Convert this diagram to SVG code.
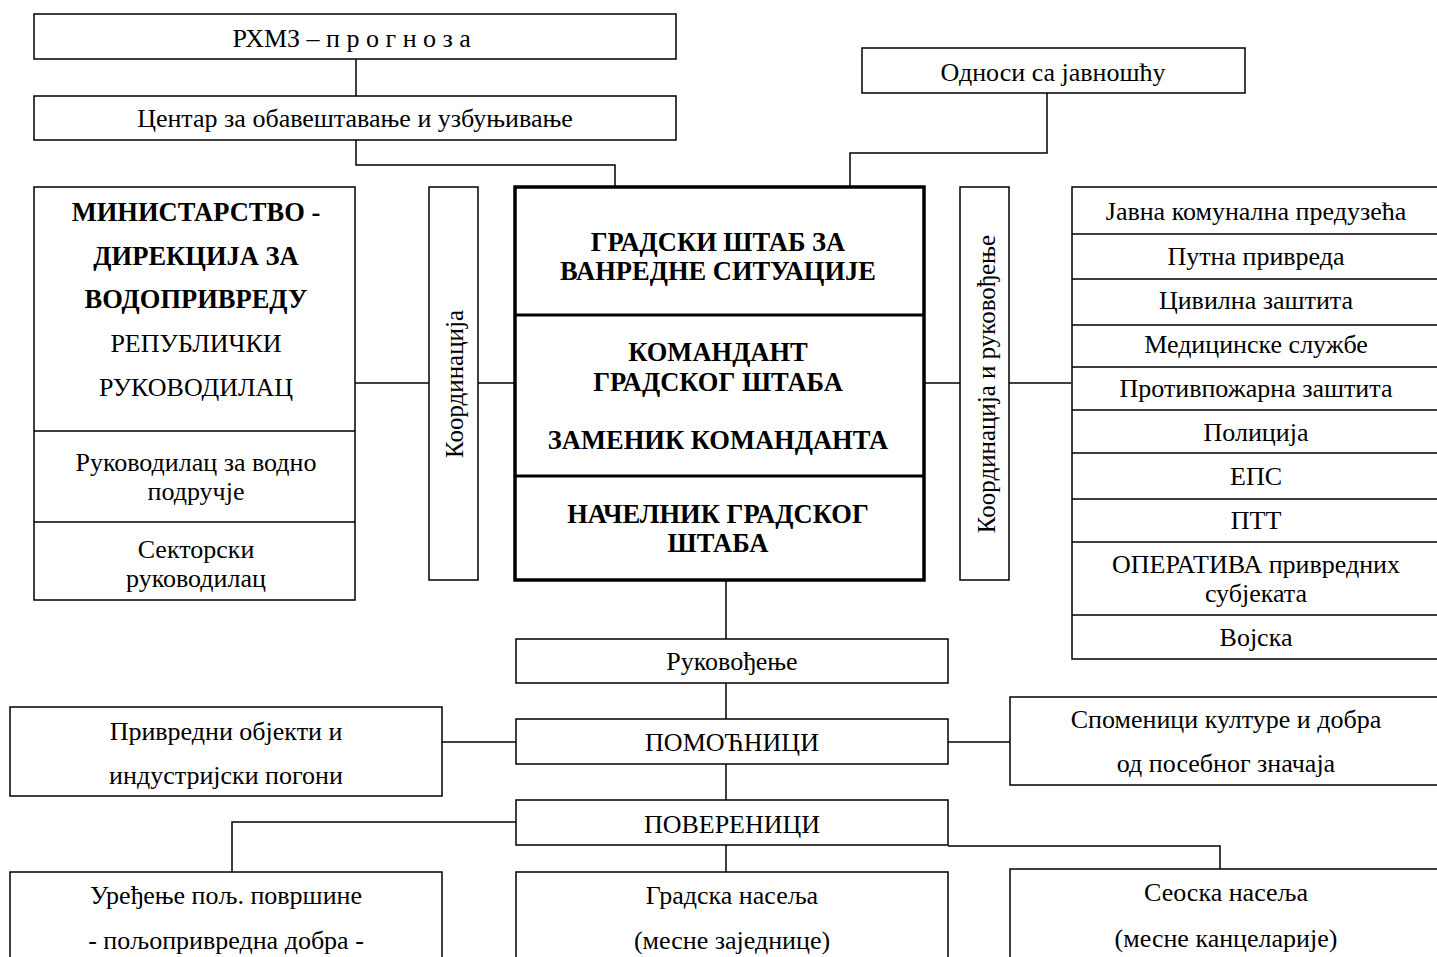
<svg xmlns="http://www.w3.org/2000/svg" width="1437" height="957" viewBox="0 0 1437 957">
<style>
.b{fill:#fff;stroke:#000;stroke-width:1.5}
.k{fill:#fff;stroke:#000;stroke-width:3.5}
.d{stroke:#000;stroke-width:3}
.l{stroke:#000;stroke-width:1.5}
.c{fill:none;stroke:#000;stroke-width:1.5}
text{font-family:"Liberation Serif","Times New Roman",serif;font-size:26px;fill:#000;text-anchor:middle;dominant-baseline:central}
.bo{font-weight:bold;font-size:26.5px}
.v{font-size:25px}
</style>
<rect width="1437" height="957" fill="#fff"/>
<g id="connectors">
<path class="c" d="M356 59V96"/>
<path class="c" d="M356 140V165H615V187"/>
<path class="c" d="M1047 93V153H850V187"/>
<path class="c" d="M355 383H429"/>
<path class="c" d="M478 383H515"/>
<path class="c" d="M924 383H960"/>
<path class="c" d="M1009 383H1071"/>
<path class="c" d="M726 580V639"/>
<path class="c" d="M726 683V719"/>
<path class="c" d="M442 742H516"/>
<path class="c" d="M948 742H1010"/>
<path class="c" d="M726 764V800"/>
<path class="c" d="M516 822H232V872"/>
<path class="c" d="M726 845V872"/>
<path class="c" d="M948 846H1220V869"/>
</g>
<g id="rhmz">
<rect class="b" x="34" y="14" width="642" height="45"/>
<text x="355" y="38">РХМЗ – <tspan letter-spacing="6.5">прогноза</tspan></text>
</g>
<g id="centar">
<rect class="b" x="34" y="96" width="642" height="44"/>
<text x="355" y="118">Центар за обавештавање и узбуњивање</text>
</g>
<g id="odnosi">
<rect class="b" x="862" y="48" width="383" height="45"/>
<text x="1053" y="72">Односи са јавношћу</text>
</g>
<g id="ministarstvo">
<rect class="b" x="34" y="187" width="321" height="413"/>
<path class="l" d="M34 431H355M34 522H355"/>
<text class="bo" x="196" y="212">МИНИСТАРСТВО -</text>
<text class="bo" x="196" y="256">ДИРЕКЦИЈА ЗА</text>
<text class="bo" x="196" y="299">ВОДОПРИВРЕДУ</text>
<text x="196" y="343">РЕПУБЛИЧКИ</text>
<text x="196" y="387">РУКОВОДИЛАЦ</text>
<text x="196" y="462">Руководилац за водно</text>
<text x="196" y="491">подручје</text>
<text x="196" y="549">Секторски</text>
<text x="196" y="578">руководилац</text>
</g>
<g id="koordinacija">
<rect class="b" x="429" y="187" width="49" height="393"/>
<text class="v" transform="translate(454 384) rotate(-90)">Координација</text>
</g>
<g id="stab">
<rect class="k" x="515" y="187" width="409" height="393"/>
<path class="d" d="M515 315H924M515 476H924"/>
<text class="bo" x="718" y="242">ГРАДСКИ ШТАБ ЗА</text>
<text class="bo" x="718" y="271">ВАНРЕДНЕ СИТУАЦИЈЕ</text>
<text class="bo" x="718" y="352">КОМАНДАНТ</text>
<text class="bo" x="718" y="382">ГРАДСКОГ ШТАБА</text>
<text class="bo" x="718" y="440">ЗАМЕНИК КОМАНДАНТА</text>
<text class="bo" x="718" y="514">НАЧЕЛНИК ГРАДСКОГ</text>
<text class="bo" x="718" y="543">ШТАБА</text>
</g>
<g id="koord-rukovodjenje">
<rect class="b" x="960" y="187" width="49" height="393"/>
<text class="v" transform="translate(986 384) rotate(-90)">Координација и руковођење</text>
</g>
<g id="sluzbe">
<rect class="b" x="1072" y="187" width="380" height="472"/>
<path class="l" d="M1072 234H1452M1072 279H1452M1072 325H1452M1072 367H1452M1072 410H1452M1072 453H1452M1072 499H1452M1072 542H1452M1072 615H1452"/>
<text x="1256" y="211">Јавна комунална предузећа</text>
<text x="1256" y="256">Путна привреда</text>
<text x="1256" y="300">Цивилна заштита</text>
<text x="1256" y="344">Медицинске службе</text>
<text x="1256" y="388">Противпожарна заштита</text>
<text x="1256" y="432">Полиција</text>
<text x="1256" y="476">ЕПС</text>
<text x="1256" y="520">ПТТ</text>
<text x="1256" y="564">ОПЕРАТИВА привредних</text>
<text x="1256" y="593">субјеката</text>
<text x="1256" y="637">Војска</text>
</g>
<g id="rukovodjenje">
<rect class="b" x="516" y="639" width="432" height="44"/>
<text x="732" y="661">Руковођење</text>
</g>
<g id="privredni">
<rect class="b" x="10" y="707" width="432" height="89"/>
<text x="226" y="731">Привредни објекти и</text>
<text x="226" y="775">индустријски погони</text>
</g>
<g id="pomocnici">
<rect class="b" x="516" y="719" width="432" height="45"/>
<text x="732" y="742">ПОМОЋНИЦИ</text>
</g>
<g id="spomenici">
<rect class="b" x="1010" y="697" width="440" height="88"/>
<text x="1226" y="719">Споменици културе и добра</text>
<text x="1226" y="763">од посебног значаја</text>
</g>
<g id="poverenici">
<rect class="b" x="516" y="800" width="432" height="45"/>
<text x="732" y="824">ПОВЕРЕНИЦИ</text>
</g>
<g id="uredjenje">
<rect class="b" x="10" y="872" width="432" height="100"/>
<text x="226" y="895">Уређење пољ. површине</text>
<text x="226" y="940">- пољопривредна добра -</text>
</g>
<g id="gradska">
<rect class="b" x="516" y="872" width="432" height="100"/>
<text x="732" y="895">Градска насеља</text>
<text x="732" y="940">(месне заједнице)</text>
</g>
<g id="seoska">
<rect class="b" x="1010" y="869" width="440" height="100"/>
<text x="1226" y="892">Сеоска насеља</text>
<text x="1226" y="938">(месне канцеларије)</text>
</g>
</svg>
